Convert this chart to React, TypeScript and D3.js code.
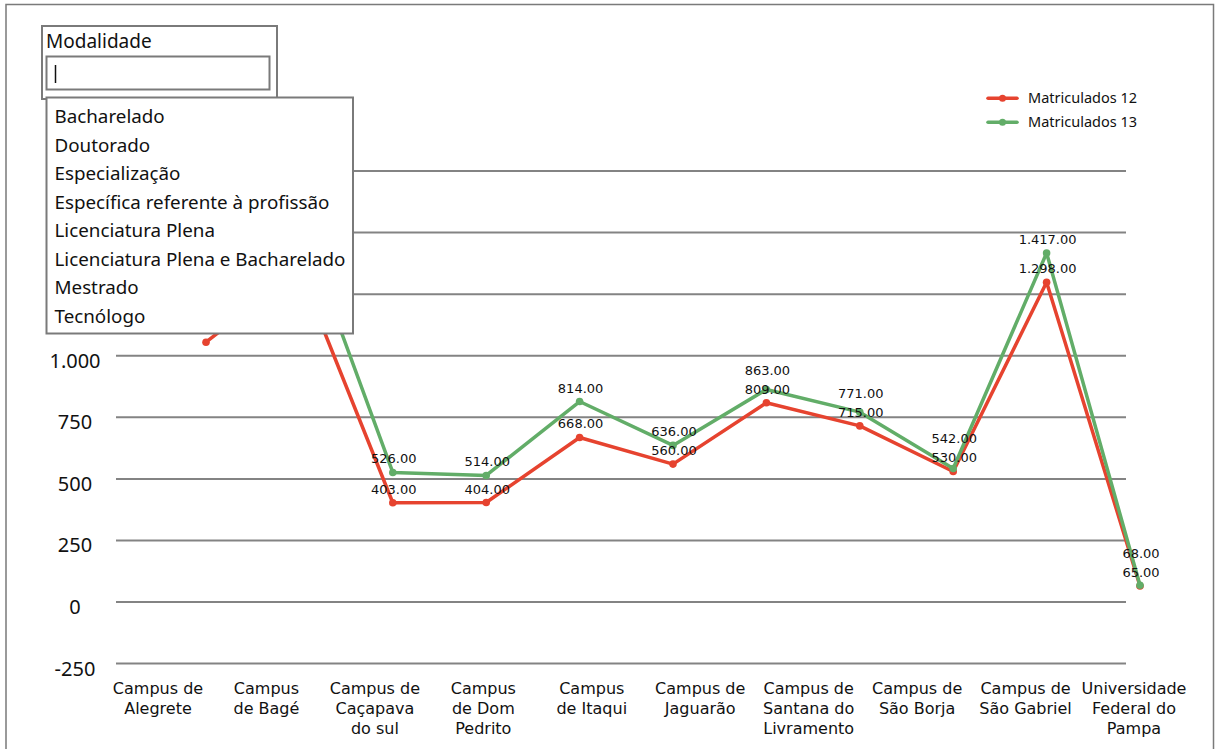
import React from "react";
import * as d3 from "d3";

// Campuses plotted along the line series (one point each)
const campuses = [
  "Alegrete",
  "Bagé",
  "Caçapava do Sul",
  "Dom Pedrito",
  "Itaqui",
  "Jaguarão",
  "Santana do Livramento",
  "São Borja",
  "São Gabriel",
  "Uruguaiana",
  "Universidade Federal do Pampa",
];

// Enrolment counts per campus
const matriculados12 = [1055, 1350, 403, 404, 668, 560, 809, 715, 530, 1298, 65];
const matriculados13 = [1190, 1560, 526, 514, 814, 636, 863, 771, 542, 1417, 68];

// Category labels printed under the axis (wrapped into lines)
const axisLabels = [
  ["Campus de", "Alegrete"],
  ["Campus", "de Bagé"],
  ["Campus de", "Caçapava", "do sul"],
  ["Campus", "de Dom", "Pedrito"],
  ["Campus", "de Itaqui"],
  ["Campus de", "Jaguarão"],
  ["Campus de", "Santana do", "Livramento"],
  ["Campus de", "São Borja"],
  ["Campus de", "São Gabriel"],
  ["Universidade", "Federal do", "Pampa"],
];

const yTicks = [-250, 0, 250, 500, 750, 1000, 1250, 1500, 1750];

const seriesNames = ["Matriculados 12", "Matriculados 13"];
const seriesColors = ["#e6432f", "#62ad68"];

const modalidades = [
  "Bacharelado",
  "Doutorado",
  "Especialização",
  "Específica referente à profissão",
  "Licenciatura Plena",
  "Licenciatura Plena e Bacharelado",
  "Mestrado",
  "Tecnólogo",
];

const W = 1215;
const H = 749;
const SANS = "'Noto Sans', 'Open Sans', sans-serif";
const LABEL_FONT = "'DejaVu Sans', sans-serif";

// open option list of the filter box (drawn above the plot)
const LIST = { x: 46.5, y: 97.5, w: 306.5, h: 236 };
const underList = (px: number, py: number) =>
  px > LIST.x - 30 && px < LIST.x + LIST.w + 30 && py > LIST.y && py < LIST.y + LIST.h + 2;

const fmtValue = d3.formatLocale({
  decimal: ".",
  thousands: ".",
  grouping: [3],
  currency: ["", ""],
  minus: "-",
}).format(",.2f");
const fmtTick = d3.formatLocale({
  decimal: ",",
  thousands: ".",
  grouping: [3],
  currency: ["", ""],
  minus: "-",
}).format(",d");

export default function App() {
  const y = d3.scaleLinear().domain([-250, 1750]).range([663.6, 171]);
  const x = d3.scalePoint<string>().domain(campuses).range([206, 1140]);
  const xLab = d3
    .scalePoint<string>()
    .domain(axisLabels.map((_, i) => String(i)))
    .range([158, 1134]);

  const series = [matriculados12, matriculados13];
  const line = d3
    .line<number>()
    .x((_, i) => x(campuses[i]) as number)
    .y((v) => y(v));

  // value label baselines: the second series is pushed up when it would collide
  const labelY = campuses.map((_, i) => {
    const r = y(matriculados12[i]) - 9;
    const g = Math.min(y(matriculados13[i]) - 9, r - 19);
    return [r, g];
  });

  return (
    <div style={{ position: "absolute", left: 0, top: 0, width: W, height: H, background: "#fff" }}>
      <svg width={W} height={H} style={{ display: "block" }}>
        <rect x={0} y={0} width={W} height={H} fill="#fff" />
        {/* outer frame */}
        <rect x={6} y={4.5} width={1207.5} height={H + 20} fill="none" stroke="#7a7a7a" strokeWidth={1.5} />

        {/* horizontal grid */}
        {yTicks.map((t) => (
          <line key={t} x1={116} x2={1126} y1={y(t)} y2={y(t)} stroke="#838383" strokeWidth={2} />
        ))}
        {/* y tick labels */}
        {yTicks
          .filter((t) => !underList(75, y(t)))
          .map((t) => (
            <text
              key={"l" + t}
              x={75}
              y={y(t) + 12}
              textAnchor="middle"
              fontFamily={SANS}
              fontSize={20}
              fill="#111"
            >
              {fmtTick(t)}
            </text>
          ))}

        {/* x axis labels, one text per wrapped line */}
        {axisLabels.map((lines, i) => (
          <g key={"x" + i}>
            {lines.map((ln, j) => (
              <text
                key={j}
                x={xLab(String(i))}
                y={694 + j * 20}
                textAnchor="middle"
                fontFamily={LABEL_FONT}
                fontSize={16}
                fill="#111"
              >
                {ln}
              </text>
            ))}
          </g>
        ))}

        {/* series lines and points */}
        {series.map((vals, s) => (
          <g key={"s" + s}>
            <path d={line(vals) || ""} fill="none" stroke={seriesColors[s]} strokeWidth={3.5} strokeLinejoin="round" />
            {vals.map((v, i) => (
              <circle key={i} cx={x(campuses[i])} cy={y(v)} r={3.8} fill={seriesColors[s]} />
            ))}
          </g>
        ))}
        {/* value labels */}
        {series.map((vals, s) => (
          <g key={"v" + s}>
            {vals.map((v, i) => {
              const lx = (x(campuses[i]) as number) + 1;
              const ly = labelY[i][s];
              if (underList(lx, ly)) return null;
              return (
                <text
                  key={i}
                  x={lx}
                  y={ly}
                  textAnchor="middle"
                  fontFamily={LABEL_FONT}
                  fontSize={13}
                  fill="#111"
                >
                  {fmtValue(v)}
                </text>
              );
            })}
          </g>
        ))}

        {/* legend */}
        {seriesNames.map((name, i) => (
          <g key={name} transform={`translate(988, ${98.3 + i * 24})`}>
            <line x1={0} x2={29} y1={0} y2={0} stroke={seriesColors[i]} strokeWidth={3.5} strokeLinecap="round" />
            <circle cx={14.5} cy={0} r={3.5} fill={seriesColors[i]} />
            <text x={40} y={5} fontFamily={SANS} fontSize={14.5} fill="#111">
              {name}
            </text>
          </g>
        ))}

        {/* Modalidade filter with its open list */}
        <rect x={42} y={26} width={235} height={73} fill="#fff" stroke="#7a7a7a" strokeWidth={2} />
        <text x={46} y={48} fontFamily={SANS} fontSize={19} fill="#111">
          Modalidade
        </text>
        <rect x={46.5} y={56.5} width={223} height={33} fill="#fff" stroke="#7a7a7a" strokeWidth={2} />
        <line x1={55.5} x2={55.5} y1={65} y2={83} stroke="#111" strokeWidth={1.5} />
        <rect x={LIST.x} y={LIST.y} width={LIST.w} height={LIST.h} fill="#fff" stroke="#7a7a7a" strokeWidth={2} />
        {modalidades.map((m, i) => (
          <text key={m} x={54.5} y={123 + i * 28.5} fontFamily={SANS} fontSize={18.8} fill="#111">
            {m}
          </text>
        ))}
      </svg>
    </div>
  );
}
